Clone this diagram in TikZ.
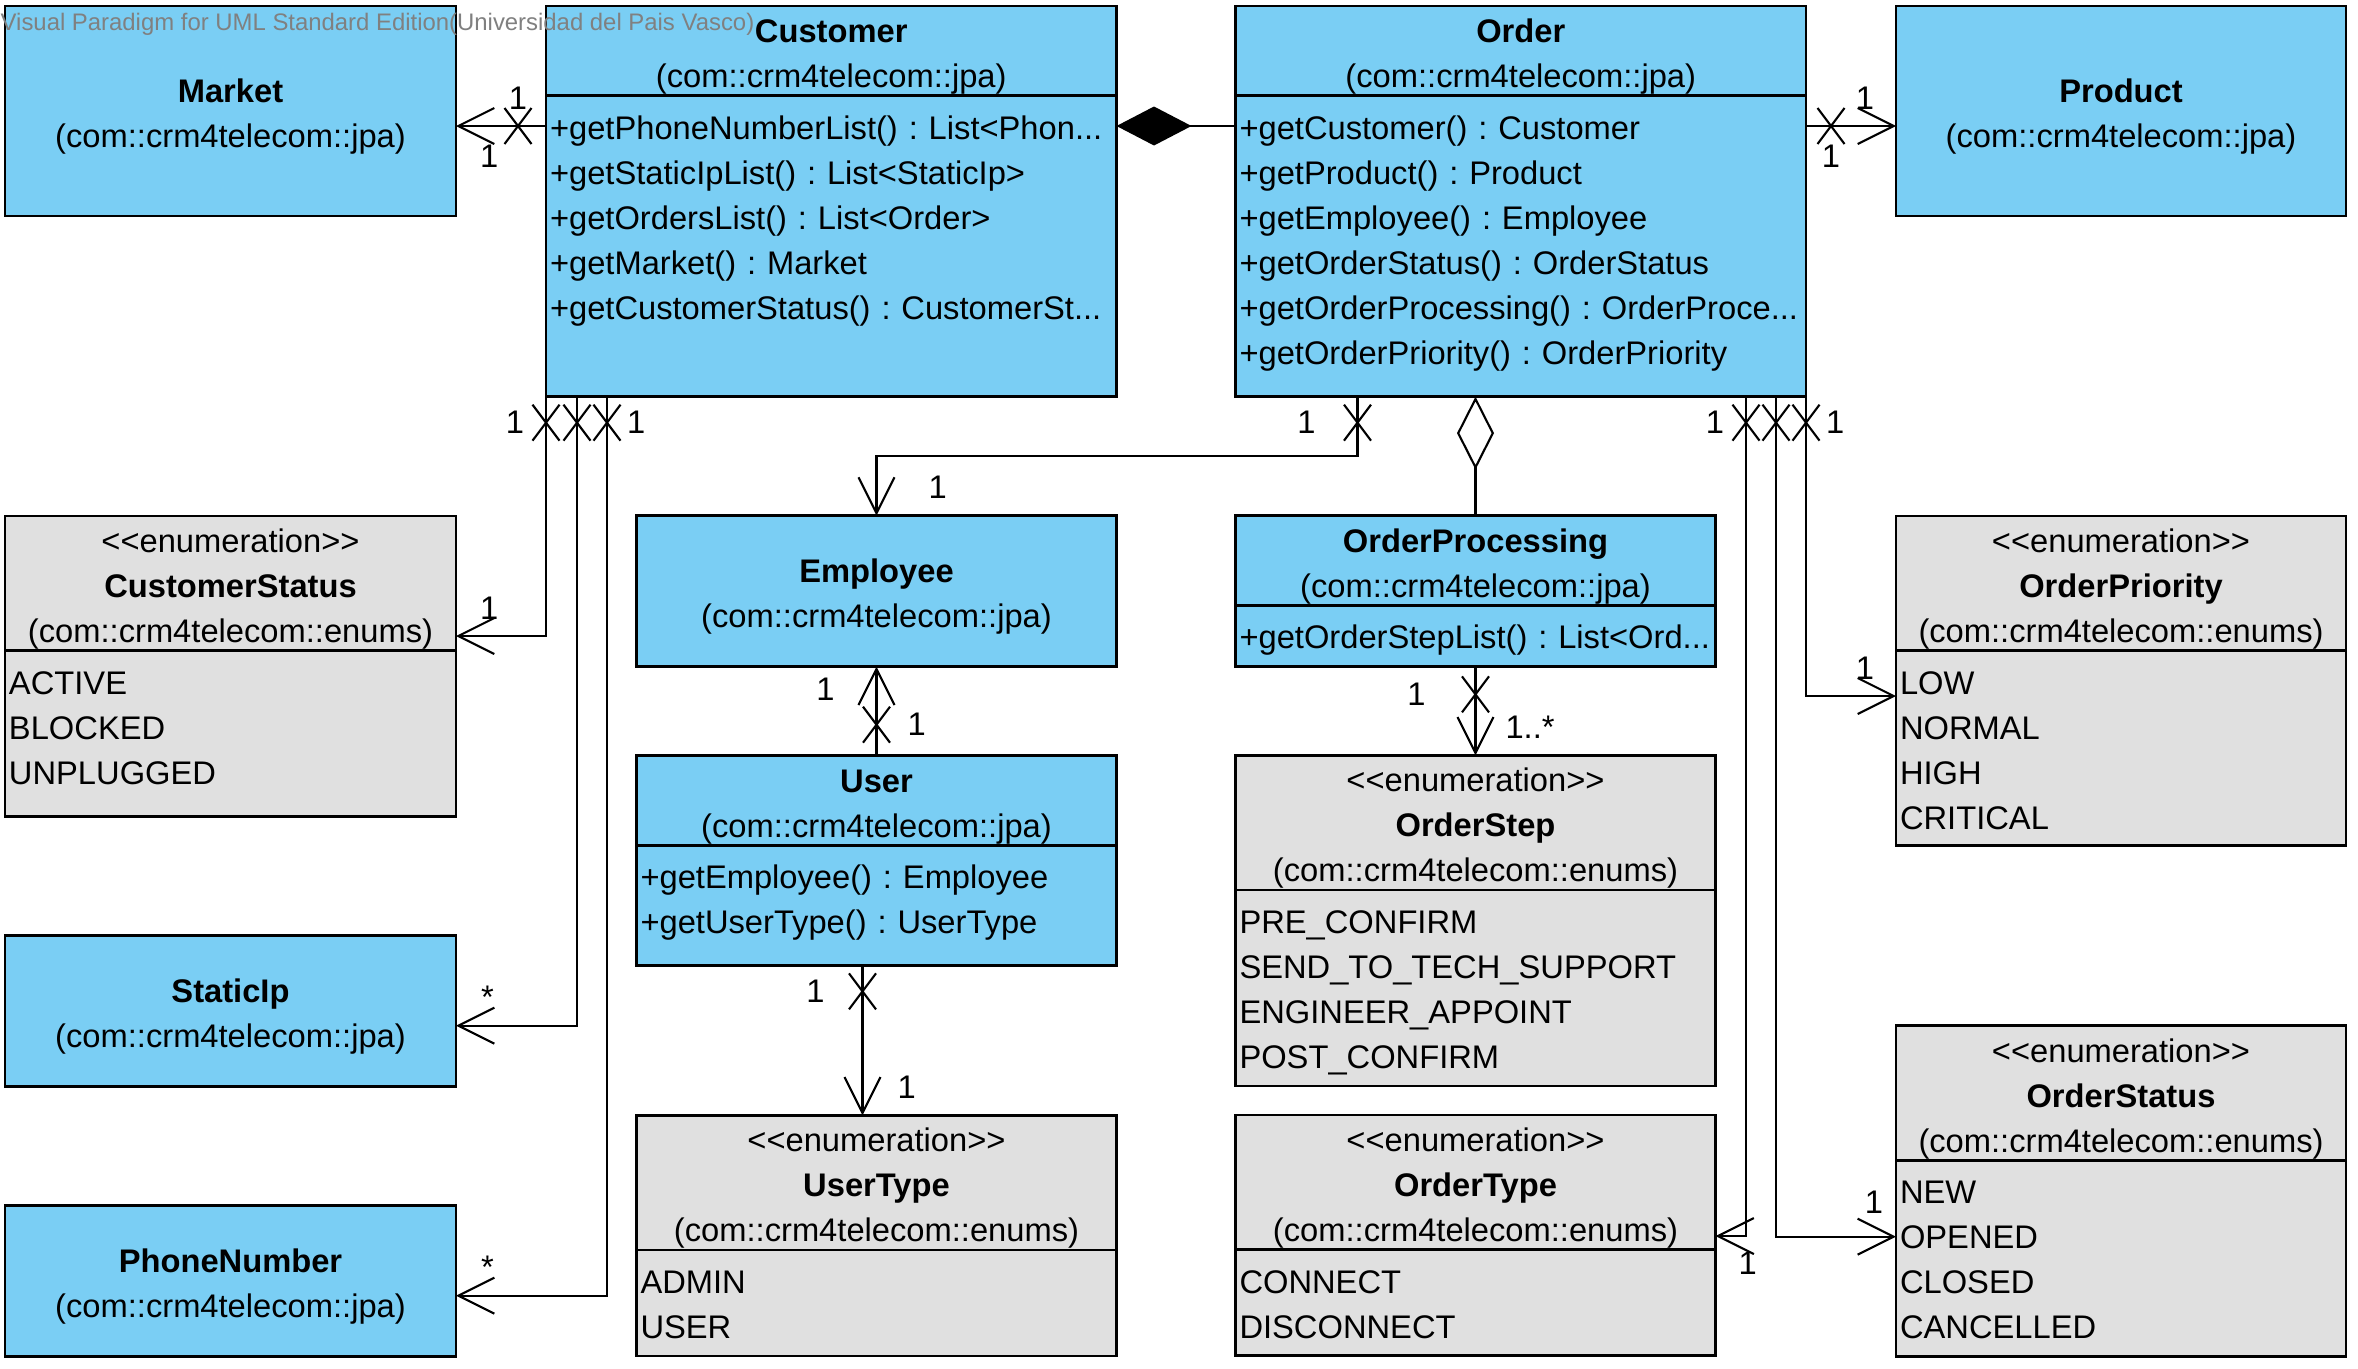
\documentclass[tikz,border=0pt]{standalone}
\usepackage{fontspec}
\setmainfont{Liberation Sans}
\usepackage{xcolor}
\usepackage{tikz}
\usetikzlibrary{arrows.meta, shapes.multipart, shapes.misc, positioning}
\definecolor{jpablue}{HTML}{7ACEF4}
\definecolor{enumgray}{HTML}{E0E0E0}
\definecolor{markgray}{HTML}{808080}
\frenchspacing
\newcommand{\umlstrut}{\rule{0pt}{10pt}}
\newcommand{\umlfirst}{\rule{0pt}{12pt}}
\newcommand{\umlpad}[1]{\rule[-#1]{0pt}{#1}}
\tikzset{
  classbox/.style={
    rectangle, draw=black, line width=0.8pt, fill=jpablue,
    inner xsep=0.04cm, inner ysep=0pt, outer sep=0pt,
    align=center, font=\fontsize{9.3pt}{12.8pt}\selectfont
  },
  enumbox/.style={classbox, fill=enumgray},
  twoparts/.style={rectangle split, rectangle split parts=2},
  colL/.style={text width=4.43cm},
  colC/.style={text width=5.625cm},
  colM/.style={text width=4.72cm},
  colR/.style={text width=4.42cm},
  assoc/.style={-{Straight Barb[length=3.6mm, width=3.6mm]}, line width=0.6pt},
  compo/.style={{Diamond[length=7.5mm, width=3.9mm]}-, line width=0.6pt},
  aggr/.style={{Diamond[open, length=7.3mm, width=3.7mm]}-, line width=0.6pt},
  nonav/.style={cross out, draw, sloped, line width=0.6pt,
    minimum width=0.27cm, minimum height=0.36cm, inner sep=0pt, outer sep=0pt},
  mult/.style={font=\fontsize{9.3pt}{12.8pt}\selectfont, inner sep=0pt, outer sep=0pt},
}

\begin{document}
\begin{tikzpicture}[node distance=1.19cm and 0.9cm]
  \useasboundingbox (0,0) rectangle (23.58,-13.68);

  % --- top row ---
  \node[classbox, colL, minimum height=2.1cm, anchor=north west] (market) at (0.05,-0.06)
    {\umlstrut\textbf{Market}\\(com::crm4telecom::jpa)};
  \node[classbox, twoparts, colC,
        right=0.9cm of market.north east, anchor=north west] (customer)
    {\umlstrut\textbf{Customer}\\(com::crm4telecom::jpa)
     \nodepart{two}\raggedright\umlfirst+getPhoneNumberList() : List<Phon...\\
     +getStaticIpList() : List<StaticIp>\\
     +getOrdersList() : List<Order>\\
     +getMarket() : Market\\
     +getCustomerStatus() : CustomerSt...\umlpad{0.76cm}\par};
  \node[classbox, twoparts, colC,
        right=1.19cm of customer.north east, anchor=north west] (order)
    {\umlstrut\textbf{Order}\\(com::crm4telecom::jpa)
     \nodepart{two}\raggedright\umlfirst+getCustomer() : Customer\\
     +getProduct() : Product\\
     +getEmployee() : Employee\\
     +getOrderStatus() : OrderStatus\\
     +getOrderProcessing() : OrderProce...\\
     +getOrderPriority() : OrderPriority\umlpad{0.31cm}\par};
  \node[classbox, colR, minimum height=2.1cm,
        right=0.9cm of order.north east, anchor=north west] (product)
    {\umlstrut\textbf{Product}\\(com::crm4telecom::jpa)};

  % --- left column ---
  \node[enumbox, twoparts, colL,
        below=3cm of market.south west, anchor=north west] (custstatus)
    {\umlstrut<{}<enumeration>{}>\\\textbf{CustomerStatus}\\(com::crm4telecom::enums)
     \nodepart{two}\raggedright\umlfirst ACTIVE\\BLOCKED\\UNPLUGGED\umlpad{0.31cm}\par};
  \node[classbox, colL, minimum height=1.51cm,
        below=1.19cm of custstatus.south west, anchor=north west] (staticip)
    {\umlstrut\textbf{StaticIp}\\(com::crm4telecom::jpa)};
  \node[classbox, colL, minimum height=1.51cm,
        below=1.19cm of staticip.south west, anchor=north west] (phone)
    {\umlstrut\textbf{PhoneNumber}\\(com::crm4telecom::jpa)};

  % --- middle columns ---
  \node[classbox, colM, minimum height=1.51cm,
        below=1.19cm of customer.south east, anchor=north east] (employee)
    {\umlstrut\textbf{Employee}\\(com::crm4telecom::jpa)};
  \node[classbox, twoparts, colM, below=0.89cm of employee.south] (user)
    {\umlstrut\textbf{User}\\(com::crm4telecom::jpa)
     \nodepart{two}\raggedright\umlfirst+getEmployee() : Employee\\
     +getUserType() : UserType\umlpad{0.30cm}\par};
  \node[enumbox, twoparts, colM, below=1.5cm of user.south] (usertype)
    {\umlstrut<{}<enumeration>{}>\\\textbf{UserType}\\(com::crm4telecom::enums)
     \nodepart{two}\raggedright\umlfirst ADMIN\\USER\umlpad{0.16cm}\par};

  \node[classbox, twoparts, colM,
        below=1.19cm of order.south west, anchor=north west] (orderproc)
    {\umlstrut\textbf{OrderProcessing}\\(com::crm4telecom::jpa)
     \nodepart{two}\raggedright\umlfirst+getOrderStepList() : List<Ord...\umlpad{0.16cm}\par};
  \node[enumbox, twoparts, colM, below=0.89cm of orderproc.south] (orderstep)
    {\umlstrut<{}<enumeration>{}>\\\textbf{OrderStep}\\(com::crm4telecom::enums)
     \nodepart{two}\raggedright\umlfirst PRE\_CONFIRM\\SEND\_TO\_TECH\_SUPPORT\\
     ENGINEER\_APPOINT\\POST\_CONFIRM\umlpad{0.16cm}\par};
  \node[enumbox, twoparts, colM, below=0.29cm of orderstep.south] (ordertype)
    {\umlstrut<{}<enumeration>{}>\\\textbf{OrderType}\\(com::crm4telecom::enums)
     \nodepart{two}\raggedright\umlfirst CONNECT\\DISCONNECT\umlpad{0.16cm}\par};

  % --- right column ---
  \node[enumbox, twoparts, colR,
        below=3cm of product.south west, anchor=north west] (orderprio)
    {\umlstrut<{}<enumeration>{}>\\\textbf{OrderPriority}\\(com::crm4telecom::enums)
     \nodepart{two}\raggedright\umlfirst LOW\\NORMAL\\HIGH\\CRITICAL\umlpad{0.15cm}\par};
  \node[enumbox, twoparts, colR,
        below=1.8cm of orderprio.south west, anchor=north west] (orderstatus)
    {\umlstrut<{}<enumeration>{}>\\\textbf{OrderStatus}\\(com::crm4telecom::enums)
     \nodepart{two}\raggedright\umlfirst NEW\\OPENED\\CLOSED\\CANCELLED\umlpad{0.16cm}\par};

  % --- Customer associations ---
  \draw[assoc] ([yshift=-1.2cm]customer.north west) -- ++(-0.28,0)
    node[nonav] (xm) {} node[mult, above=0.17cm] (lm1) {1}
    -- ([yshift=-1.2cm]market.north east)
    node[mult, below right=0.19cm and 0.24cm] (lm2) {1};
  \draw[compo] ([yshift=-1.2cm]customer.north east) -- ([yshift=-1.2cm]order.north west);
  \draw[assoc] (customer.south west) -- ++(0,-0.26)
    node[nonav] (xcs) {} node[mult, left=0.22cm] (lcs1) {1}
    |- ([yshift=-1.2cm]custstatus.north east)
    node[mult, above right=0.17cm and 0.24cm] (lcs2) {1};
  \draw[assoc] ([xshift=0.31cm]customer.south west) -- ++(0,-0.26)
    node[nonav] (xsi) {}
    |- ([yshift=-0.9cm]staticip.north east)
    node[mult, above right=0.17cm and 0.25cm] (lsi) {*};
  \draw[assoc] ([xshift=0.61cm]customer.south west) -- ++(0,-0.26)
    node[nonav] (xpn) {} node[mult, right=0.2cm] (lpn1) {1}
    |- ([yshift=-0.9cm]phone.north east)
    node[mult, above right=0.17cm and 0.25cm] (lpn2) {*};

  % --- Order associations ---
  \draw[assoc] ([yshift=-1.2cm]order.north east) -- ++(0.25,0)
    node[nonav] (xp) {} node[mult, below=0.19cm] (lp1) {1}
    -- ([yshift=-1.2cm]product.north west)
    node[mult, above left=0.17cm and 0.22cm] (lp2) {1};
  \draw[assoc] ([xshift=1.22cm]order.south west) -- ++(0,-0.26)
    node[nonav] (xe) {} node[mult, left=0.42cm] (le1) {1}
    -- ++(0,-0.33) -| (employee.north)
    node[mult, above right=0.17cm and 0.52cm] (le2) {1};
  \draw[aggr] (orderproc.north |- order.south) -- (orderproc.north);
  \draw[assoc] (order.south east) -- ++(0,-0.26)
    node[nonav] (xop) {} node[mult, right=0.2cm] (lop1) {1}
    |- ([yshift=-1.8cm]orderprio.north west)
    node[mult, above left=0.17cm and 0.22cm] (lop2) {1};
  \draw[assoc] ([xshift=-0.3cm]order.south east) -- ++(0,-0.26)
    node[nonav] (xost) {}
    |- ([yshift=-2.11cm]orderstatus.north west)
    node[mult, above left=0.23cm and 0.13cm] (lost) {1};
  \draw[assoc] ([xshift=-0.6cm]order.south east) -- ++(0,-0.26)
    node[nonav] (xot) {} node[mult, left=0.22cm] (lot1) {1}
    |- ([yshift=-1.21cm]ordertype.north east)
    node[mult, below right=0.16cm and 0.23cm] (lot2) {1};

  % --- Processing, User ---
  \draw[assoc] (orderproc.south) -- ++(0,-0.28)
    node[nonav] (xos) {} node[mult, left=0.5cm] (los1) {1}
    -- (orderstep.north)
    node[mult, above right=0.17cm and 0.3cm] (los2) {1..*};
  \draw[assoc] (user.north) -- ++(0,0.31)
    node[nonav] (xue) {} node[mult, right=0.31cm] (lue1) {1}
    -- (employee.south)
    node[mult, below left=0.11cm and 0.42cm] (lue2) {1};
  \draw[assoc] ([xshift=-0.14cm]user.south) -- ++(0,-0.26)
    node[nonav] (xut) {} node[mult, left=0.38cm] (lut1) {1}
    -- ([xshift=-0.14cm]usertype.north)
    node[mult, above right=0.17cm and 0.35cm] (lut2) {1};

  % --- watermark ---
  \node[anchor=west, inner sep=0pt, text=markgray,
        font=\fontsize{6.8pt}{8pt}\selectfont] (vp) at (0,-0.24)
    {Visual Paradigm for UML Standard Edition(Universidad del Pais Vasco)};

\end{tikzpicture}
\end{document}
